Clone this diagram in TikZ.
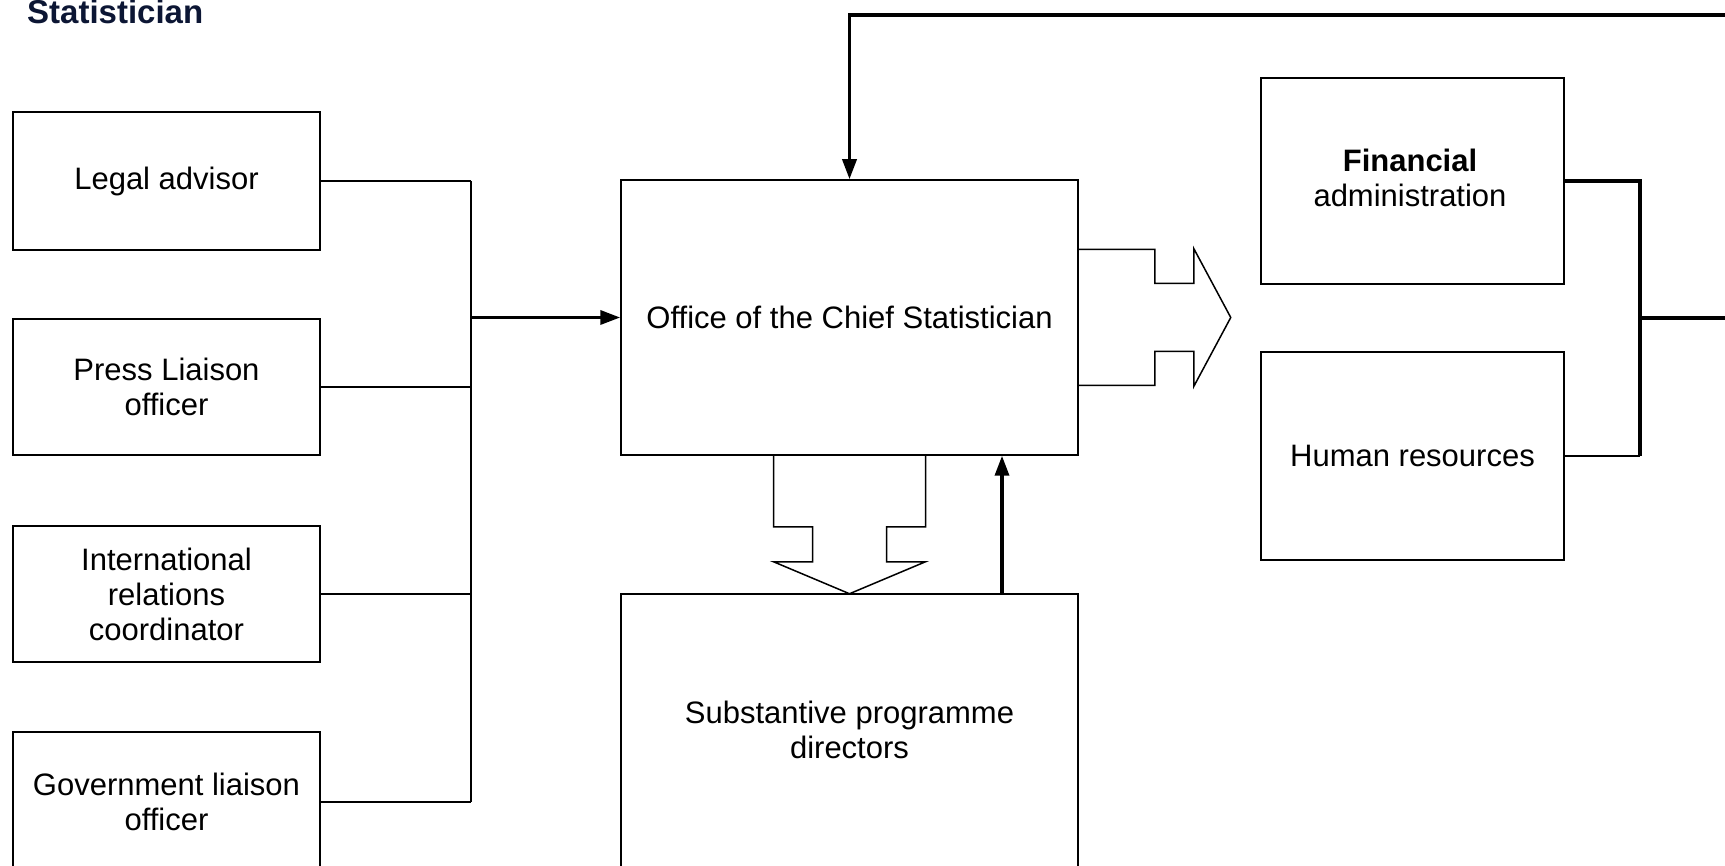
\documentclass[tikz,border=0pt]{standalone}
\usepackage{fontspec}
\setmainfont{Liberation Sans}
\usetikzlibrary{arrows.meta}
\definecolor{titleblue}{RGB}{12,22,52}

\begin{document}
\begin{tikzpicture}[x=1pt,y=-1pt,
  box/.style={draw, line width=1.5pt, rectangle, inner sep=0pt, align=center,
    font=\fontsize{31}{35}\selectfont},
  label/.style={inner sep=0pt, align=center, font=\fontsize{31}{35}\selectfont},
  thinline/.style={line width=1.5pt},
  heavy/.style={line width=3.5pt},
  tip/.style={-{Triangle[length=20pt,width=14pt]}},
  hollow/.style={line width=1.5pt, line join=miter}
]
\useasboundingbox (0,0) rectangle (1725,866);
\clip (0,0) rectangle (1725,866);

% heading
\node[anchor=base west, inner sep=0pt, text=titleblue,
  font=\bfseries\fontsize{33}{38}\selectfont] (title) at (27,24) {Statistician};

% support units on the left
\node[box, minimum width=307pt, minimum height=138pt] (legal) at (166.5,181) {Legal advisor};
\node[box, minimum width=307pt, minimum height=136pt] (press) at (166.5,387) {Press Liaison\\officer};
\node[box, minimum width=307pt, minimum height=136pt] (intl) at (166.5,594) {International\\relations\\coordinator};
\node[box, minimum width=307pt, minimum height=140pt] (gov) at (166.5,802) {Government liaison\\officer};

% central office and programme directors
\node[box, minimum width=457pt, minimum height=275pt] (office) at (849.5,317.5) {Office of the Chief Statistician};
\node[box, minimum width=457pt, minimum height=320pt] (subst) at (849.5,754) {};
\node[label] (substtext) at (849.5,730) {Substantive programme\\directors};

% administration units on the right
\node[box, minimum width=303pt, minimum height=206pt] (fin) at (1412.5,181) {};
\node[label] (fintext) at (1410,178) {\textbf{Financial}\\administration};
\node[box, minimum width=303pt, minimum height=208pt] (hr) at (1412.5,456) {Human resources};

% left bus collecting the support units
\coordinate (bus) at (471,0);
\draw[thinline] (legal.east) -- (legal.east -| bus);
\draw[thinline] (press.east) -- (press.east -| bus);
\draw[thinline] (intl.east) -- (intl.east -| bus);
\draw[thinline] (gov.east) -- (gov.east -| bus);
\draw[thinline] (legal.east -| bus) -- (gov.east -| bus);
\draw[heavy,tip] (bus |- office.west) -- (office.west);

% feedback line along the top
\coordinate (topright) at (1735,15);
\draw[heavy,tip] (topright) -| (office.north);

% directors report back up
\draw[heavy,tip] ([xshift=152.5pt]subst.north) -- ([xshift=152.5pt]office.south);

% right bus joining the administration units
\coordinate (rbus) at (1640,0);
\coordinate (rout) at (1735,318);
\draw[heavy] (fin.east) -| (rbus |- hr.east);
\draw[thinline] (hr.east) -- (rbus |- hr.east);
\draw[heavy] (rbus |- rout) -- (rout);

% block arrow towards the administration units
\begin{scope}[shift={(office.east)}]
\draw[hollow] (0,-68) -- (76,-68) -- (76,-34) -- (115,-34) -- (115,-69)
  -- (152,0) -- (115,69) -- (115,34) -- (76,34) -- (76,68) -- (0,68);
\end{scope}

% block arrow down to the programme directors
\begin{scope}[shift={(office.south)}]
\draw[hollow] (-76,0) -- (-76,71) -- (-37,71) -- (-37,106) -- (-76,106)
  -- (0,138) -- (76,106) -- (37,106) -- (37,71) -- (76,71) -- (76,0);
\end{scope}
\end{tikzpicture}
\end{document}
